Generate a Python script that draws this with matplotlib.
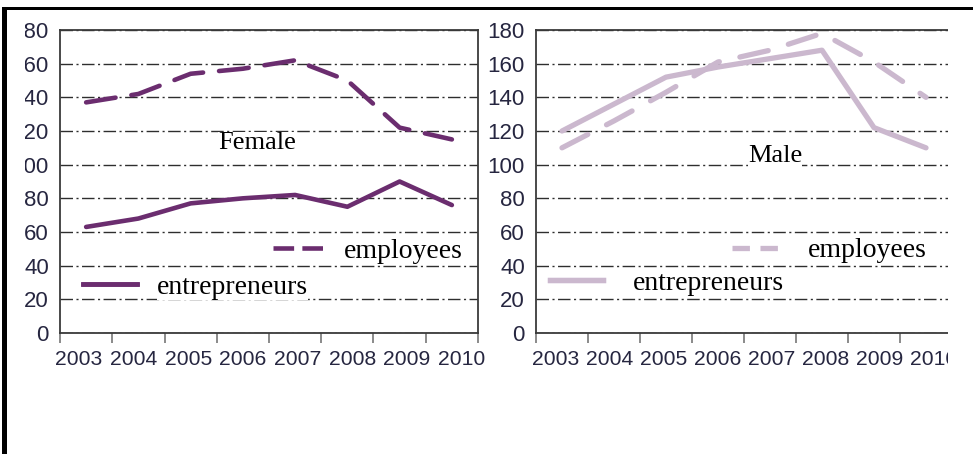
import numpy as np
import matplotlib.pyplot as plt
from matplotlib.lines import Line2D
from matplotlib.patches import Rectangle
from matplotlib.transforms import ScaledTranslation

plt.rcParams['font.family'] = ['Liberation Sans', 'DejaVu Sans']

years = ['2003', '2004', '2005', '2006', '2007', '2008', '2009', '2010']
yticks = [0, 20, 40, 60, 80, 100, 120, 140, 160, 180]

female_employees = [137, 142, 154, 157, 162, 150, 122, 115]
female_entrepreneurs = [63, 68, 77, 80, 82, 75, 90, 76]
male_employees = [110, 126, 143, 161, 168, 178, 161, 140]
male_entrepreneurs = [120, 136, 152, 158, 163, 168, 122, 110]

female_col = '#6b2d6f'
male_col = '#cbb8ce'
tick_col = '#262640'
serif = 'Liberation Serif'

W, H = 973, 454
fig = plt.figure(figsize=(W / 100, H / 100), dpi=100)


def px_axes(x0, x1, ytop, ybot):
    return fig.add_axes([x0 / W, (H - ybot) / H, (x1 - x0) / W, (ybot - ytop) / H])


def style(ax, ypad, lab_shift, lab_step):
    x = np.arange(len(years))
    ax.set_xlim(-0.5, len(years) - 0.5)
    ax.set_ylim(0, 180)
    ax.set_yticks(yticks)
    ax.set_yticklabels([str(v) for v in yticks])
    ax.set_xticks(x)
    ax.set_xticklabels(years)
    ax.set_xticks(np.arange(-0.5, len(years), 1), minor=True)
    ax.tick_params(axis='x', which='major', length=0, pad=12.5, labelsize=15.2, labelcolor=tick_col)
    ax.tick_params(axis='x', which='minor', length=7, width=1.2, color='#777777')
    ax.tick_params(axis='y', length=0, pad=ypad, labelsize=16, labelcolor=tick_col)
    # the printed year labels sit a little wider apart than the categories
    for i, lab in enumerate(ax.get_xticklabels()):
        dx = (lab_shift + lab_step * i) / 100
        lab.set_transform(lab.get_transform() + ScaledTranslation(dx, 0, fig.dpi_scale_trans))
    ax.set_axisbelow(True)
    ax.grid(axis='y', color='#2e2e2e', linewidth=1.0, linestyle=(0, (9, 2.5, 1.5, 2.5)))
    for s in ax.spines.values():
        s.set_color('#3a3a3a')
        s.set_linewidth(1.3)


def add_legend(ax, handle, label, anchor, hl, tp, white=False):
    leg = ax.legend([handle], [label], loc='center left', bbox_to_anchor=anchor,
                    frameon=False, borderpad=0, borderaxespad=0, handlelength=hl,
                    handletextpad=tp, prop={'family': serif, 'size': 20})
    if white:
        for t in leg.get_texts():
            t.set_bbox(dict(facecolor='white', edgecolor='none', pad=0))
    ax.add_artist(leg)


x = np.arange(len(years))

# Female panel
ax1 = px_axes(60, 478, 30, 333)
style(ax1, 8, -7.5, 2.5)
ax1.plot(x, female_employees, color=female_col, lw=3.3,
         linestyle=(0, (6.5, 3.5)), dash_capstyle='round', zorder=3)
ax1.plot(x, female_entrepreneurs, color=female_col, lw=3.3,
         solid_capstyle='round', solid_joinstyle='round', zorder=3)
ax1.text(0.471, 0.607, 'Female', transform=ax1.transAxes, ha='center', va='baseline',
         family=serif, fontsize=19, zorder=4,
         bbox=dict(facecolor='white', edgecolor='none', pad=0))
add_legend(ax1, Line2D([], [], color=female_col, lw=3.3, linestyle=(0, (4.5, 1.8))),
           'employees', (0.51, 0.27), 1.95, 0.6)
add_legend(ax1, Line2D([], [], color=female_col, lw=3.3), 'entrepreneurs',
           (0.055, 0.152), 1.95, 0.72, white=True)

# Male panel
ax2 = px_axes(536, 952, 30, 333)
style(ax2, 8, -6, 1.9)
ax2.plot(x, male_employees, color=male_col, lw=3.8,
         linestyle=(0, (5.5, 4.0)), dash_capstyle='round', zorder=3)
ax2.plot(x, male_entrepreneurs, color=male_col, lw=3.8,
         solid_capstyle='round', solid_joinstyle='round', zorder=3)
ax2.text(0.5745, 0.565, 'Male', transform=ax2.transAxes, ha='center', va='baseline',
         family=serif, fontsize=19, zorder=4,
         bbox=dict(facecolor='white', edgecolor='none', pad=0))
add_legend(ax2, Line2D([], [], color=male_col, lw=3.8, linestyle=(0, (3.3, 2.0))),
           'employees', (0.471, 0.272), 1.85, 0.9)
add_legend(ax2, Line2D([], [], color=male_col, lw=3.8), 'entrepreneurs',
           (0.034, 0.165), 1.9, 1.08, white=True)

# scan crop: white masks and black frame
fig.add_artist(Rectangle((7 / W, 0), 18 / W, (H - 10.5) / H, transform=fig.transFigure,
                         facecolor='white', edgecolor='none', zorder=10))
fig.add_artist(Rectangle((947.5 / W, 0), (W - 947.5) / W, (H - 10.5) / H,
                         transform=fig.transFigure, facecolor='white', edgecolor='none', zorder=10))
fig.add_artist(Rectangle((1.7 / W, (H - 10) / H), 1, 3.3 / H, transform=fig.transFigure,
                         facecolor='black', edgecolor='none', zorder=11))
fig.add_artist(Rectangle((1.7 / W, 0), 5 / W, (H - 6.7) / H, transform=fig.transFigure,
                         facecolor='black', edgecolor='none', zorder=11))

fig.savefig('out.png', dpi=100)
